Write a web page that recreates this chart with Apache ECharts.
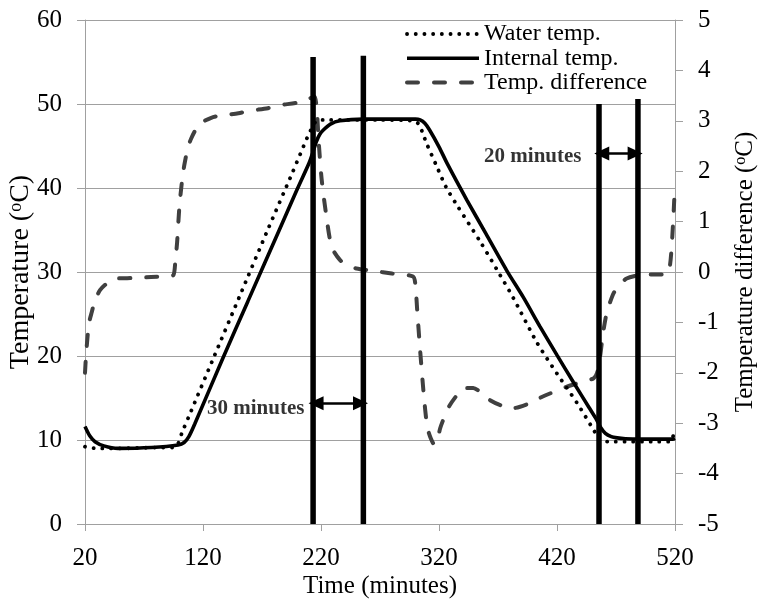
<!DOCTYPE html>
<html>
<head>
<meta charset="utf-8">
<script src="https://cdn.jsdelivr.net/npm/echarts@6/dist/echarts.min.js"></script>
<style>html,body{margin:0;padding:0;background:#fff;}#c{width:759px;height:600px;}</style>
</head>
<body>
<div id="c"></div>
<script>
// ---- data ----
var xTicks = [20, 120, 220, 320, 420, 520];
var waterT = [20, 30, 50, 80, 95, 99, 102, 108, 128.7, 151, 175.4, 196, 208, 210.7, 213, 215.5, 218, 222, 240, 270, 298, 303, 306, 309.5, 318, 326, 335, 355, 369, 383, 403, 420, 437, 451, 454, 456, 459, 465, 480, 500, 516, 518, 520];
var waterV = [9.2, 9.0, 9.0, 9.1, 9.1, 9.6, 10.8, 12.8, 19.7, 27.1, 35.2, 41.9, 45.9, 46.7, 47.4, 47.9, 48.1, 48.1, 48.1, 48.1, 48.0, 47.6, 46.6, 45.3, 42.6, 40.1, 38.0, 33.6, 30.3, 26.9, 21.6, 17.9, 14.4, 11.2, 10.5, 10.0, 9.85, 9.8, 9.8, 9.8, 9.8, 10.3, 11.2];
var internalT = [20, 24, 28.5, 36, 48, 76.5, 99, 104, 108, 113, 137, 158, 184, 200, 210, 213, 216, 219, 222, 228, 236, 256, 280, 300, 304, 308, 312, 320, 327, 343.5, 360, 377.3, 391.4, 405.6, 420, 433.8, 447, 453.6, 457, 461, 466, 471, 478, 490, 505, 518, 520];
var internalV = [11.6, 10.5, 9.8, 9.3, 9.0, 9.1, 9.4, 9.7, 10.4, 11.9, 19.8, 26.5, 34.8, 39.9, 43.0, 44.2, 45.5, 46.4, 46.9, 47.6, 48.0, 48.2, 48.2, 48.2, 48.1, 47.7, 46.9, 44.9, 42.9, 38.6, 34.5, 30.2, 27.0, 23.5, 20.1, 16.9, 13.9, 12.4, 11.5, 10.8, 10.4, 10.25, 10.15, 10.1, 10.1, 10.1, 10.2];
var diffT = [20, 20.8, 22.5, 24, 25.7, 28, 32.7, 40, 47, 60, 76, 90, 95, 96.5, 98, 100, 102, 104, 107, 110, 115, 120, 127, 134, 150, 160, 175, 185, 200, 211, 214.5, 216.5, 218, 220.5, 224, 229, 236, 243, 250, 265, 280, 298, 300, 301.5, 304, 307, 310, 313, 316, 318.5, 321, 325, 329, 335, 341, 349, 356, 363, 373, 383, 395, 408, 428, 445, 451, 454, 456.5, 459, 462, 465, 468, 473, 479, 490, 500, 513, 515.5, 517, 518.5, 520];
var diffV = [-2.0, -1.68, -1.2, -0.95, -0.8, -0.6, -0.36, -0.2, -0.13, -0.12, -0.1, -0.08, -0.06, 0.2, 0.57, 1.3, 1.76, 2.1, 2.45, 2.65, 2.87, 2.98, 3.06, 3.1, 3.15, 3.2, 3.25, 3.31, 3.36, 3.45, 3.48, 3.2, 2.6, 1.85, 1.2, 0.5, 0.24, 0.12, 0.07, 0.02, -0.03, -0.09, -0.26, -0.75, -1.55, -2.41, -3.07, -3.3, -3.42, -3.35, -3.1, -2.85, -2.65, -2.45, -2.31, -2.3, -2.4, -2.54, -2.65, -2.7, -2.62, -2.47, -2.28, -2.15, -2.11, -2.0, -1.68, -1.22, -0.82, -0.6, -0.42, -0.25, -0.13, -0.06, -0.05, -0.05, 0.1, 0.44, 1.03, 1.75];
// marker lines (time, top temperature)
var markerT = [213.3, 255.9, 455.6, 488.6];
var markerTop = [55.6, 55.75, 50.0, 50.6];
// double arrows: start time, end time, level (temperature)
var arrowStart = [215.8, 457.9];
var arrowEnd = [253.5, 486.2];
var arrowLevel = [14.37, 44.1];
var noteText = ['30 minutes', '20 minutes'];
var noteT = [206.4, 441.2];
var noteV = [13.8, 43.8];

function pairs(t, v) { return t.map(function (x, i) { return [x, v[i]]; }); }

var FONT = 'Liberation Serif';
var GRID = '#a0a0a0';
var series = [
  { name: 'Water temp.', type: 'line', data: pairs(waterT, waterV), symbol: 'none', smooth: 0.25,
    lineStyle: { color: '#000', width: 3.8, type: [0.1, 8.6], cap: 'round' }, itemStyle: { color: '#000' }, z: 3 },
  { name: 'Internal temp.', type: 'line', data: pairs(internalT, internalV), symbol: 'none', smooth: 0.25,
    lineStyle: { color: '#000', width: 3.6 }, itemStyle: { color: '#000' }, z: 4 },
  { name: 'Temp. difference', type: 'line', yAxisIndex: 1, data: pairs(diffT, diffV), symbol: 'none', smooth: 0.25,
    lineStyle: { color: '#404040', width: 4, type: [11, 16], cap: 'round' }, itemStyle: { color: '#404040' }, z: 2 }
];
markerT.forEach(function (t, i) {
  series.push({ name: 'm' + i, type: 'line', data: [[t, 0], [t, markerTop[i]]], symbol: 'none', silent: true,
    lineStyle: { color: '#000', width: 5.5, cap: 'butt' }, z: 6 });
});
series.push({
  name: 'arrows', type: 'line', data: [], symbol: 'none', silent: true, z: 7,
  markLine: {
    silent: true, symbol: ['triangle', 'triangle'], symbolSize: [14, 15],
    lineStyle: { color: '#000', width: 2.5, type: 'solid' }, label: { show: false },
    data: arrowStart.map(function (s, i) { return [{ coord: [s, arrowLevel[i]] }, { coord: [arrowEnd[i], arrowLevel[i]] }]; })
  }
});
series.push({
  name: 'notes', type: 'scatter', data: noteT.map(function (t, i) { return { value: [t, noteV[i]], label: { formatter: noteText[i] } }; }),
  symbolSize: 1, itemStyle: { color: 'rgba(0,0,0,0)' }, silent: true, z: 8,
  label: { show: true, position: 'left', distance: 0, fontFamily: FONT, fontWeight: 'bold', fontSize: 21, color: '#000' }
});

var chart = echarts.init(document.getElementById('c'), null, { renderer: 'canvas' });
chart.setOption({
  animation: false,
  backgroundColor: '#fff',
  textStyle: { fontFamily: FONT },
  grid: { left: 85, right: 84, top: 20, bottom: 76, containLabel: false, outerBoundsMode: 'none' },
  legend: {
    data: ['Water temp.', 'Internal temp.', 'Temp. difference'],
    orient: 'vertical', left: 405, top: 22, padding: 0, itemWidth: 72, itemHeight: 14, itemGap: 0.3,
    itemStyle: { opacity: 0 },
    lineStyle: { width: 'inherit', type: 'inherit', cap: 'inherit' },
    textStyle: { fontFamily: FONT, fontSize: 24, color: '#000', lineHeight: 24 },
    selectedMode: false
  },
  xAxis: {
    type: 'value', min: 20, max: 520, interval: 100,
    name: 'Time (minutes)', nameLocation: 'middle', nameGap: 50, nameMoveOverlap: false,
    nameTextStyle: { fontFamily: FONT, fontSize: 25, color: '#000' },
    axisLine: { show: true, lineStyle: { color: GRID, width: 1 } },
    axisTick: { show: true, length: 7, lineStyle: { color: GRID } },
    axisLabel: { margin: 22, fontFamily: FONT, fontSize: 25, color: '#000',
      formatter: function (v) { return xTicks.indexOf(v) >= 0 ? String(v) : ''; } },
    splitLine: { show: false }
  },
  yAxis: [
    { type: 'value', min: 0, max: 60, interval: 10, position: 'left',
      name: '{a|Temperature (}{s|o}{a|C)}', nameLocation: 'middle', nameGap: 50, nameRotate: 90, nameMoveOverlap: false,
      nameTextStyle: { color: '#000', rich: { a: { fontFamily: FONT, fontSize: 28, color: '#000' }, s: { fontFamily: FONT, fontSize: 18, color: '#000', verticalAlign: 'top', lineHeight: 28 } } },
      axisLine: { show: true, lineStyle: { color: GRID, width: 1 } },
      axisTick: { show: true, length: 8, lineStyle: { color: GRID } },
      axisLabel: { margin: 23, fontFamily: FONT, fontSize: 25, color: '#000' },
      splitLine: { show: true, lineStyle: { color: GRID, width: 1 } } },
    { type: 'value', min: -5, max: 5, interval: 1, position: 'right',
      name: '{a|Temperature difference (}{s|o}{a|C)}', nameLocation: 'middle', nameGap: 58, nameRotate: 90, nameMoveOverlap: false,
      nameTextStyle: { color: '#000', rich: { a: { fontFamily: FONT, fontSize: 25, color: '#000' }, s: { fontFamily: FONT, fontSize: 16, color: '#000', verticalAlign: 'top', lineHeight: 25 } } },
      axisLine: { show: true, lineStyle: { color: GRID, width: 1 } },
      axisTick: { show: true, length: 8, lineStyle: { color: GRID } },
      axisLabel: { margin: 23, fontFamily: FONT, fontSize: 25, color: '#000' },
      splitLine: { show: false } }
  ],
  series: series
});
</script>
</body>
</html>
